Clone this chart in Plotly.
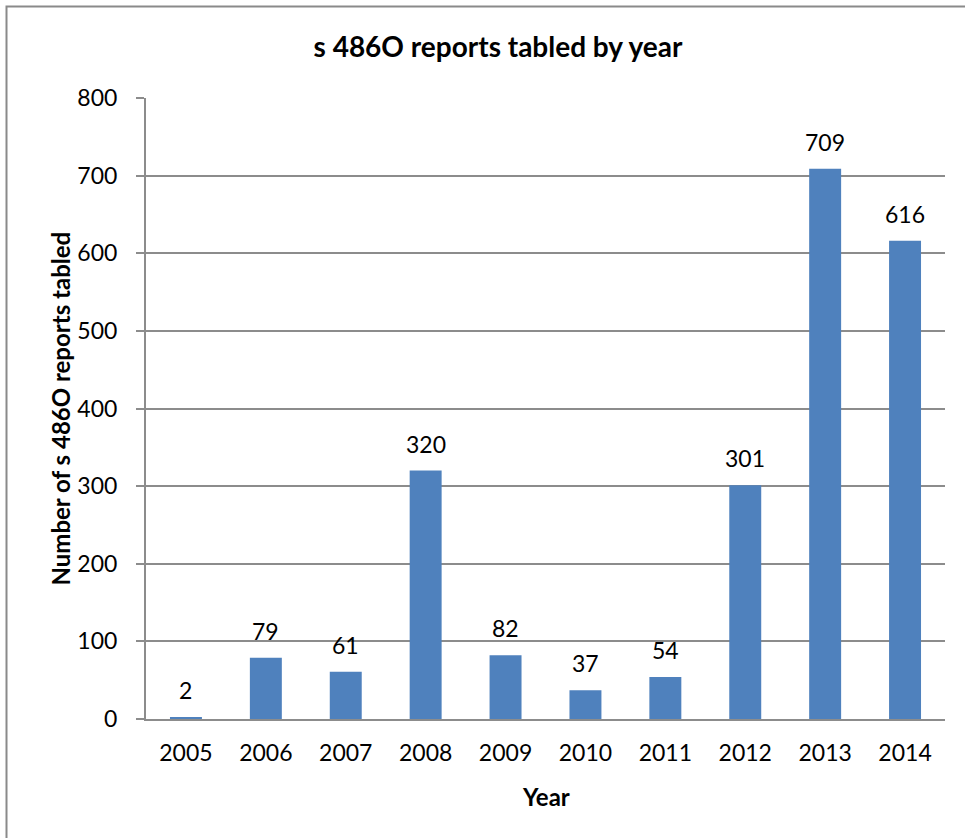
import plotly.graph_objects as go

years = ["2005", "2006", "2007", "2008", "2009", "2010", "2011", "2012", "2013", "2014"]
reports = [2, 79, 61, 320, 82, 37, 54, 301, 709, 616]
y_ticks = [0, 100, 200, 300, 400, 500, 600, 700, 800]

FONT = "Lato, Calibri, Carlito, sans-serif"
BAR_COLOR = "#4F81BD"
GRID = "#8C8C8C"

# plot-area geometry in pixels (used to place the frame and titles in paper units)
W, H = 965, 838
L, R, T, B = 146, 20, 98, 119
PW, PH = W - L - R, H - T - B


def px_x(px):
    return (px - L) / PW


def px_y(py):
    return (H - B - py) / PH


fig = go.Figure(
    go.Bar(
        x=years,
        y=reports,
        marker=dict(color=BAR_COLOR, line=dict(width=0)),
        width=0.4,
        hoverinfo="x+y",
    )
)

# value labels above each bar (category index used as x position)
for i, v in enumerate(reports):
    fig.add_annotation(
        x=i, y=v, text=str(v), showarrow=False,
        yanchor="bottom", yshift=11,
        font=dict(family=FONT, size=23, color="#000"),
    )

# y-axis title
fig.add_annotation(
    x=px_x(60), y=0.5, xref="paper", yref="paper",
    text="<b>Number of s 486O reports tabled</b>", textangle=-90,
    showarrow=False, xanchor="center", yanchor="middle",
    font=dict(family=FONT, size=24, color="#000"),
)

# x-axis title
fig.add_annotation(
    x=0.5, y=px_y(796), xref="paper", yref="paper",
    text="<b>Year</b>", showarrow=False, xanchor="center", yanchor="middle",
    font=dict(family=FONT, size=24, color="#000"),
)

# chart frame
fig.add_shape(
    type="rect", xref="paper", yref="paper",
    x0=px_x(6.5), x1=px_x(990), y0=px_y(860), y1=px_y(6.5),
    line=dict(color="#8A8A8A", width=2), fillcolor="rgba(0,0,0,0)", layer="below",
)

fig.update_layout(
    width=W, height=H,
    margin=dict(l=L, r=R, t=T, b=B, pad=0),
    paper_bgcolor="white", plot_bgcolor="white",
    showlegend=False,
    title=dict(
        text="<b>s 486O reports tabled by year</b>",
        x=498 / W, xanchor="center", y=1 - 47 / H, yanchor="middle",
        font=dict(family=FONT, size=28, color="#000"),
    ),
    font=dict(family=FONT, size=23, color="#000"),
    bargap=0.6,
)

fig.update_xaxes(
    type="category", range=[-0.5, len(years) - 0.5],
    showline=True, linecolor=GRID, linewidth=2,
    showgrid=False, ticks="", ticklabelstandoff=12,
    tickfont=dict(family=FONT, size=23, color="#000"),
)

fig.update_yaxes(
    range=[0, 800], tickvals=y_ticks,
    showline=True, linecolor=GRID, linewidth=2,
    showgrid=True, gridcolor=GRID, gridwidth=2,
    ticks="outside", ticklen=8, tickcolor=GRID, tickwidth=2,
    ticklabelstandoff=14, zeroline=False,
    tickfont=dict(family=FONT, size=23, color="#000"),
)

fig.write_html("out.html")
